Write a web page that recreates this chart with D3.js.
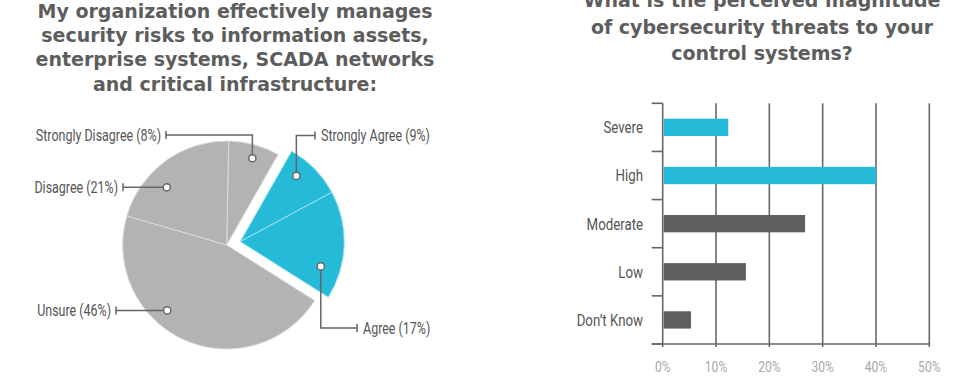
<!DOCTYPE html>
<html>
<head>
<meta charset="utf-8">
<script src="https://cdn.jsdelivr.net/npm/d3@7"></script>
<style>
  body { margin: 0; background: #fff; }
  svg { display: block; }
  .title { font-family: "DejaVu Sans", sans-serif; font-weight: 700; fill: #5d5d5d; }
  .lbl { font-family: Roboto, sans-serif; fill: #555; }
</style>
</head>
<body>
<svg id="chart" width="960" height="376"></svg>
<script>
// ---- data ----
const pieTitle = ['My organization effectively manages', 'security risks to information assets,', 'enterprise systems, SCADA networks', 'and critical infrastructure:'];
const pieLabels = ['Strongly Disagree', 'Strongly Agree', 'Agree', 'Unsure', 'Disagree'];
const pieValues = [8, 9, 17, 46, 21];
const pieHighlight = [false, true, true, false, false];

const barTitle = ['What is the perceived magnitude', 'of cybersecurity threats to your', 'control systems?'];
const barCategories = ['Severe', 'High', 'Moderate', 'Low', 'Don’t Know'];
const barValues = [12.3, 40, 26.7, 15.6, 5.3];
const barHighlight = [true, true, false, false, false];
const xTicks = [0, 10, 20, 30, 40, 50];

// ---- styles / layout ----
const BLUE = '#25bad7', GRAY = '#b3b3b3', DARK = '#5d5e60', LINE = '#666';
const NARROW = 0.78; // condensed look for the light labels
const svg = d3.select('#chart');

// where each leader starts along its slice (t), how far out (rr), and where it goes
const leader = {
  'Strongly Disagree': { t: 0.54, rr: 0.87, elbowY: 135, endX: 166, side: 'left' },
  'Strongly Agree':    { t: 0.34, rr: 0.83, elbowY: 135.5, endX: 315, side: 'right' },
  'Agree':             { t: 0.75, rr: 0.81, elbowY: 328, endX: 357, side: 'right' },
  'Unsure':            { t: 0.61, rr: 0.85, elbowY: null, endX: 116, side: 'left' },
  'Disagree':          { t: 0.37, rr: 0.80, elbowY: null, endX: 123, side: 'left' }
};

// narrow label: text squeezed horizontally around its anchor
function narrowText (parent, x, y, str, size, anchor, fill) {
  parent.append('g')
    .attr('transform', `translate(${x},${y}) scale(${NARROW},1)`)
    .append('text')
    .attr('class', 'lbl')
    .attr('dy', '0.35em')
    .attr('font-size', size)
    .attr('text-anchor', anchor)
    .style('fill', fill || null)
    .text(str);
}

// ---- titles ----
function drawTitle (lines, cx, y0, step, size) {
  svg.append('g').selectAll('text').data(lines).join('text')
    .attr('class', 'title')
    .attr('x', cx)
    .attr('y', (d, i) => y0 + i * step)
    .attr('text-anchor', 'middle')
    .attr('font-size', size)
    .text(d => d);
}
drawTitle(pieTitle, 235, 17.5, 24.4, 19);
drawTitle(barTitle, 762, 7, 26.5, 19);

// ---- pie ----
const cx = 226.7, cy = 245, R = 104, explode = 14;
const pieData = pieLabels.map((label, i) => ({ label, value: pieValues[i], hi: pieHighlight[i] }));
const arcs = d3.pie().sort(null).value(d => d.value).startAngle(0.019).endAngle(0.019 + 2 * Math.PI)(pieData);

// blue group is pulled out along its combined middle angle
const hiArcs = arcs.filter(a => a.data.hi);
const hiMid = (d3.min(hiArcs, a => a.startAngle) + d3.max(hiArcs, a => a.endAngle)) / 2;
const shift = a => a.data.hi ? [explode * Math.sin(hiMid), -explode * Math.cos(hiMid)] : [0, 0];

const arc = d3.arc().innerRadius(0).outerRadius(R);
const pieG = svg.append('g').attr('transform', `translate(${cx},${cy})`);
pieG.selectAll('path.slice').data(arcs).join('path')
  .attr('class', 'slice')
  .attr('transform', a => `translate(${shift(a)})`)
  .attr('d', arc)
  .attr('fill', a => a.data.hi ? BLUE : GRAY)
  .attr('stroke', a => a.data.hi ? '#9fe0ee' : '#dcdcdc')
  .attr('stroke-width', 1);

// leaders
arcs.forEach(a => {
  const L = leader[a.data.label];
  const ang = a.startAngle + L.t * (a.endAngle - a.startAngle);
  const [sx, sy] = shift(a);
  const px = sx + L.rr * R * Math.sin(ang), py = sy - L.rr * R * Math.cos(ang);
  const ey = L.elbowY === null ? py : L.elbowY - cy;
  const ex = L.endX - cx;
  const g = pieG.append('g');
  g.append('path')
    .attr('d', `M${px},${py}L${px},${ey}L${ex},${ey}M${ex},${ey - 4}L${ex},${ey + 4}`)
    .attr('fill', 'none').attr('stroke', LINE).attr('stroke-width', 1.5);
  g.append('circle').attr('cx', px).attr('cy', py).attr('r', 3.6)
    .attr('fill', '#fff').attr('stroke', LINE).attr('stroke-width', 1.5);
  narrowText(g, L.side === 'left' ? ex - 5 : ex + 6, ey,
    `${a.data.label} (${a.data.value}%)`, 16, L.side === 'left' ? 'end' : 'start');
});

// ---- bars ----
const x = d3.scaleLinear().domain([0, 50]).range([662.7, 929.3]);
const y = d3.scaleBand().domain(barCategories).range([103.3, 344]).paddingInner(0.64).paddingOuter(0.32);
const yTop = 103.3, yBot = 344;

const barG = svg.append('g');
// vertical grid lines (the 0% one doubles as the axis)
barG.selectAll('line.grid').data(xTicks).join('line')
  .attr('class', 'grid')
  .attr('x1', d => x(d)).attr('x2', d => x(d))
  .attr('y1', yTop).attr('y2', yBot + 3)
  .attr('stroke', LINE).attr('stroke-width', 1.6);
// bottom axis line
barG.append('line')
  .attr('x1', x(0) - 11).attr('x2', x(50)).attr('y1', yBot).attr('y2', yBot)
  .attr('stroke', LINE).attr('stroke-width', 1.6);
// left ticks at band boundaries
const bounds = barCategories.map(c => y(c) - y.step() * y.paddingInner() / 2);
bounds.push(yBot);
barG.selectAll('line.ytick').data(bounds).join('line')
  .attr('class', 'ytick')
  .attr('x1', x(0) - 11).attr('x2', x(0))
  .attr('y1', d => d).attr('y2', d => d)
  .attr('stroke', LINE).attr('stroke-width', 1.6);

barG.selectAll('rect.bar').data(barCategories).join('rect')
  .attr('class', 'bar')
  .attr('x', x(0) + 1)
  .attr('y', c => y(c))
  .attr('width', (c, i) => x(barValues[i]) - x(0) - 1)
  .attr('height', y.bandwidth())
  .attr('fill', (c, i) => barHighlight[i] ? BLUE : DARK);

barCategories.forEach(c => {
  narrowText(barG, 643, y(c) + y.bandwidth() / 2, c, 17, 'end');
});
xTicks.forEach(t => {
  narrowText(barG, x(t), 367, t + '%', 15.5, 'middle', '#a8a8a8');
});
</script>
</body>
</html>
